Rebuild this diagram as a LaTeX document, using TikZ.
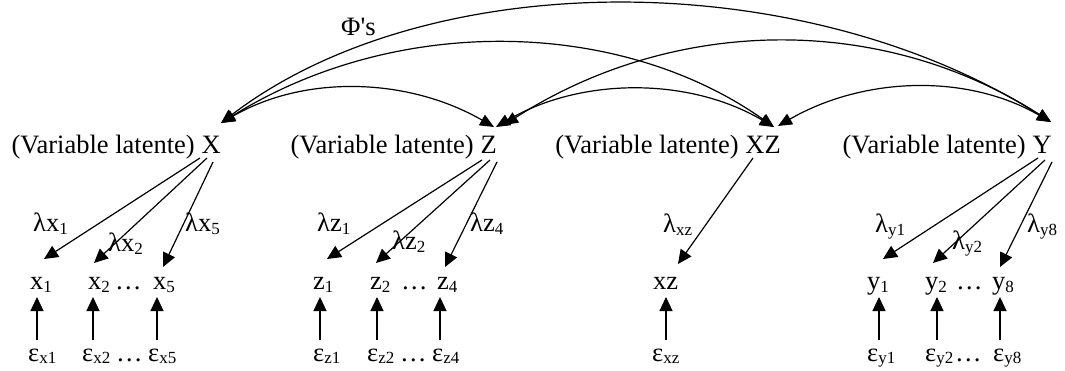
\documentclass[tikz,border=0pt]{standalone}
\usepackage{fontspec}
\setmainfont{Liberation Serif}
\newfontfamily\nomap{Liberation Serif}[Ligatures=TeXOff]
\usetikzlibrary{arrows.meta}
\newcommand\sbs[1]{\raisebox{-2.5pt}{\fontsize{17}{17}\selectfont #1}}
\begin{document}
\begin{tikzpicture}[x=1pt,y=-1pt,
  txt/.style={inner sep=0pt,anchor=base west,font=\fontsize{26.5}{30}\selectfont},
  lat/.style={inner sep=0pt,anchor=base east,font=\fontsize{26.5}{30}\selectfont},
  ld/.style={line width=1.2pt,-{Triangle[length=14pt,width=13pt]}},
  phi/.style={line width=1.2pt,{Triangle[length=14pt,width=12pt]}-{Triangle[length=14pt,width=12pt]}}]
\useasboundingbox (0,0) rectangle (1065,371);
% latent variables
\node[lat] (X) at (221,154) {X};
\node[lat] (Xlab) at ([xshift=-6.5pt]X.base west) {(Variable latente)};
\node[lat] (Z) at (497,154) {Z};
\node[lat] (Zlab) at ([xshift=-6.5pt]Z.base west) {(Variable latente)};
\node[lat] (XZ) at (781,154) {XZ};
\node[lat] (XZlab) at ([xshift=-6.5pt]XZ.base west) {(Variable latente)};
\node[lat] (Y) at (1052,154) {Y};
\node[lat] (Ylab) at ([xshift=-6.5pt]Y.base west) {(Variable latente)};
\node[txt] (phis) at (341,36) {\nomap Φ's};
% indicators
\node[txt] (x1) at (30,290) {x\sbs{1}};
\node[txt] (x2) at (88,290) {x\sbs{2}};
\node[txt] (dx) at (115,290) {…};
\node[txt] (x5) at (153,290) {x\sbs{5}};
\node[txt] (z1) at (313,290) {z\sbs{1}};
\node[txt] (z2) at (370,290) {z\sbs{2}};
\node[txt] (dz) at (401,290) {…};
\node[txt] (z4) at (437,290) {z\sbs{4}};
\node[txt] (xz) at (653,290) {xz};
\node[txt] (y1) at (867,290) {y\sbs{1}};
\node[txt] (y2) at (925,290) {y\sbs{2}};
\node[txt] (dy) at (956,290) {…};
\node[txt] (y8) at (992,290) {y\sbs{8}};
% errors
\node[txt] (ex1) at (28,361) {ε\sbs{x1}};
\node[txt] (ex2) at (82,361) {ε\sbs{x2}};
\node[txt] (dex) at (116,361) {…};
\node[txt] (ex5) at (148,361) {ε\sbs{x5}};
\node[txt] (ez1) at (313,361) {ε\sbs{z1}};
\node[txt] (ez2) at (367,361) {ε\sbs{z2}};
\node[txt] (dez) at (400,361) {…};
\node[txt] (ez4) at (432,361) {ε\sbs{z4}};
\node[txt] (exz) at (652,361) {ε\sbs{xz}};
\node[txt] (ey1) at (867,361) {ε\sbs{y1}};
\node[txt] (ey2) at (925,361) {ε\sbs{y2}};
\node[txt] (dey) at (955,361) {…};
\node[txt] (ey8) at (993,361) {ε\sbs{y8}};
% loadings labels
\node[txt] (lx1) at (33,232) {λx\sbs{1}};
\node[txt] (lx2) at (108,252) {λx\sbs{2}};
\node[txt] (lx5) at (185,232) {λx\sbs{5}};
\node[txt] (lz1) at (317,232) {λz\sbs{1}};
\node[txt] (lz2) at (392,250) {λz\sbs{2}};
\node[txt] (lz4) at (470,232) {λz\sbs{4}};
\node[txt] (lxz) at (663,233) {λ\sbs{xz}};
\node[txt] (ly1) at (875,233) {λ\sbs{y1}};
\node[txt] (ly2) at (952,250) {λ\sbs{y2}};
\node[txt] (ly8) at (1027,233) {λ\sbs{y8}};
% loadings
\draw[ld] ([shift={(-21,4)}]X.base east) -- ([shift={(14,-31)}]x1.base west);
\draw[ld] ([shift={(-14,4)}]X.base east) -- ([shift={(6,-27)}]x2.base west);
\draw[ld] ([shift={(-8,8)}]X.base east) -- ([shift={(10,-23)}]x5.base west);
\draw[ld] ([shift={(-15,6)}]Z.base east) -- ([shift={(14,-31)}]z1.base west);
\draw[ld] ([shift={(-7,6)}]Z.base east) -- ([shift={(6,-27)}]z2.base west);
\draw[ld] ([shift={(0,8)}]Z.base east) -- ([shift={(8,-23)}]z4.base west);
\draw[ld] ([shift={(-28,4)}]XZ.base east) -- ([shift={(25,-26)}]xz.base west);
\draw[ld] ([shift={(-14,4)}]Y.base east) -- ([shift={(16,-31)}]y1.base west);
\draw[ld] ([shift={(-7,6)}]Y.base east) -- ([shift={(8,-27)}]y2.base west);
\draw[ld] ([shift={(0,8)}]Y.base east) -- ([shift={(8,-23)}]y8.base west);
% errors
\draw[ld] ([shift={(9,-21)}]ex1.base west) -- ([shift={(7,7)}]x1.base west);
\draw[ld] ([shift={(11,-21)}]ex2.base west) -- ([shift={(5,7)}]x2.base west);
\draw[ld] ([shift={(9,-21)}]ex5.base west) -- ([shift={(4,7)}]x5.base west);
\draw[ld] ([shift={(7,-21)}]ez1.base west) -- ([shift={(7,7)}]z1.base west);
\draw[ld] ([shift={(10,-21)}]ez2.base west) -- ([shift={(7,7)}]z2.base west);
\draw[ld] ([shift={(8,-21)}]ez4.base west) -- ([shift={(3,7)}]z4.base west);
\draw[ld] ([shift={(14,-21)}]exz.base west) -- ([shift={(13,7)}]xz.base west);
\draw[ld] ([shift={(12,-21)}]ey1.base west) -- ([shift={(12,7)}]y1.base west);
\draw[ld] ([shift={(12,-21)}]ey2.base west) -- ([shift={(12,7)}]y2.base west);
\draw[ld] ([shift={(7,-21)}]ey8.base west) -- ([shift={(8,7)}]y8.base west);
% covariances
\draw[phi] ([shift={(0,-31)}]X.base east) .. controls +(85,-49) and +(-85,-49) .. ([shift={(-3,-27)}]Z.base east);
\draw[phi] ([shift={(0,-31)}]X.base east) .. controls +(175,-109) and +(-155,-109) .. ([shift={(-7,-27)}]XZ.base east);
\draw[phi] ([shift={(0,-31)}]X.base east) .. controls +(207,-158) and +(-250,-158) .. ([shift={(-1,-32)}]Y.base east);
\draw[phi] ([shift={(-1,-27)}]Z.base east) .. controls +(85,-50) and +(-85,-50) .. ([shift={(-7,-27)}]XZ.base east);
\draw[phi] ([shift={(7,-29)}]Z.base east) .. controls +(170,-109) and +(-170,-109) .. ([shift={(-1,-32)}]Y.base east);
\draw[phi] ([shift={(-3,-28)}]XZ.base east) .. controls +(85,-49) and +(-85,-49) .. ([shift={(-1,-32)}]Y.base east);
\end{tikzpicture}
\end{document}
